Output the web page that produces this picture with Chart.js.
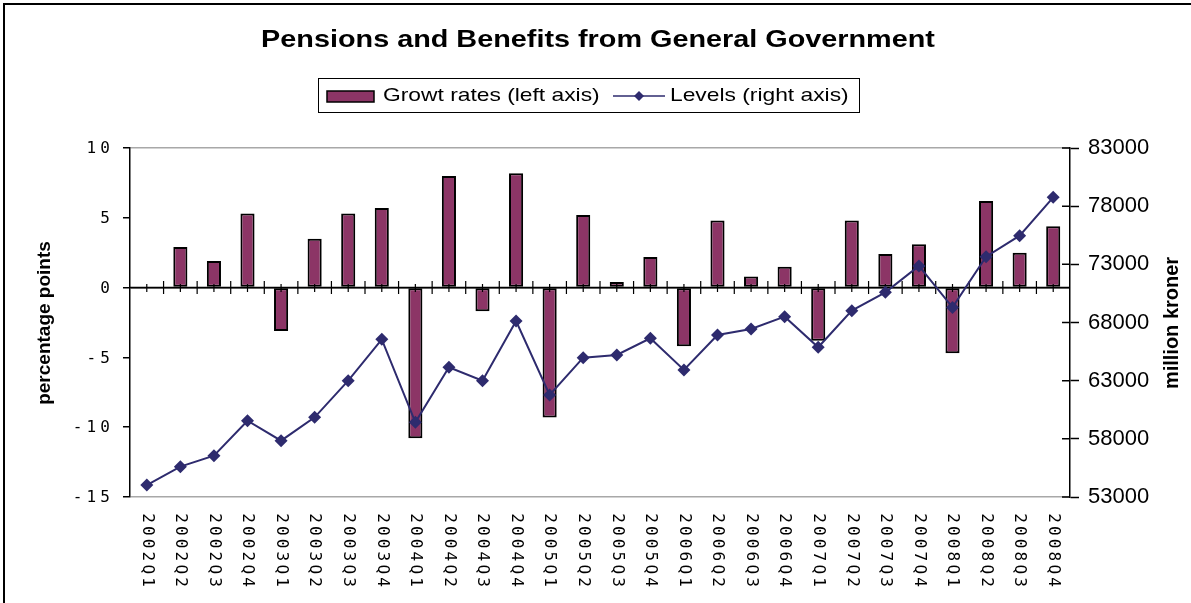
<!DOCTYPE html>
<html>
<head>
<meta charset="utf-8">
<script src="https://cdn.jsdelivr.net/npm/chart.js@4.4.1/dist/chart.umd.min.js"></script>
<style>
  html, body { margin: 0; padding: 0; background: #ffffff; }
  #wrap { width: 1191px; height: 603px; position: relative; }
</style>
</head>
<body>
<div id="wrap"><canvas id="c" width="1191" height="603"></canvas></div>
<script>
// Quarterly categories
const quarters = [
  '2002Q1', '2002Q2', '2002Q3', '2002Q4',
  '2003Q1', '2003Q2', '2003Q3', '2003Q4',
  '2004Q1', '2004Q2', '2004Q3', '2004Q4',
  '2005Q1', '2005Q2', '2005Q3', '2005Q4',
  '2006Q1', '2006Q2', '2006Q3', '2006Q4',
  '2007Q1', '2007Q2', '2007Q3', '2007Q4',
  '2008Q1', '2008Q2', '2008Q3', '2008Q4'
];

// Growth rates, percentage points (left axis)
const growthRates = [
  null, 2.9, 1.9, 5.3,
  -3.1, 3.5, 5.3, 5.7,
  -10.8, 8.0, -1.7, 8.2,
  -9.3, 5.2, 0.4, 2.2,
  -4.2, 4.8, 0.8, 1.5,
  -3.8, 4.8, 2.4, 3.1,
  -4.7, 6.2, 2.5, 4.4
];

// Levels, million kroner (right axis)
const levels = [
  54030, 55610, 56550, 59560,
  57840, 59850, 63000, 66550,
  59420, 64150, 63000, 68130,
  61770, 64980, 65210, 66640,
  63920, 66930, 67440, 68500,
  65870, 69020, 70590, 72860,
  69300, 73660, 75460, 78760
];

// Axis ranges and tick labels
const leftTickLabels = ['10', '5', '0', '-5', '-10', '-15'];
const leftTickValues = [10, 5, 0, -5, -10, -15];
const rightTickValues = [83000, 78000, 73000, 68000, 63000, 58000, 53000];

const titleText = 'Pensions and Benefits from General Government';
const barLabel = 'Growt rates (left axis)';
const lineLabel = 'Levels (right axis)';
const leftAxisTitle = 'percentage points';
const rightAxisTitle = 'million kroner';

const PLUM = '#8C3566';
const NAVY = '#2E2B6E';
const SANS = "'Liberation Sans', Arial, sans-serif";
const MONO = "'DejaVu Sans Mono', monospace";

Chart.defaults.font.family = SANS;
Chart.defaults.color = '#000';

function stretchText(ctx, text, x, y, font, align, sx) {
  ctx.save();
  ctx.font = font;
  ctx.textAlign = align;
  ctx.textBaseline = 'middle';
  ctx.fillStyle = '#000';
  ctx.translate(x, y);
  ctx.scale(sx, 1);
  ctx.fillText(text, 0, 0);
  ctx.restore();
}

function diamond(ctx, x, y, r, color) {
  ctx.beginPath();
  ctx.moveTo(x, y - r);
  ctx.lineTo(x + r, y);
  ctx.lineTo(x, y + r);
  ctx.lineTo(x - r, y);
  ctx.closePath();
  ctx.fillStyle = color;
  ctx.fill();
}

const decor = {
  id: 'decor',
  // zero line with its crossing tick marks, drawn over the bars and under the line
  afterDatasetDraw(chart, args) {
    if (args.index !== 1) return;
    const ctx = chart.ctx, area = chart.chartArea;
    const xs = chart.scales.x, ys = chart.scales.y;
    const y0 = ys.getPixelForValue(0);
    ctx.save();
    ctx.strokeStyle = '#000';
    ctx.lineWidth = 1.5;
    ctx.beginPath();
    ctx.moveTo(area.left, y0);
    ctx.lineTo(area.right, y0);
    ctx.stroke();
    ctx.lineWidth = 1.2;
    ctx.beginPath();
    for (let i = 0; i < quarters.length; i++) {
      const cx = xs.getPixelForValue(i);
      ctx.moveTo(cx, y0 - 3.5);
      ctx.lineTo(cx, y0 + 4.5);
      if (i < quarters.length - 1) {
        const bx = (cx + xs.getPixelForValue(i + 1)) / 2;
        ctx.moveTo(bx, y0 - 6.5);
        ctx.lineTo(bx, y0 + 6.5);
      }
    }
    ctx.stroke();
    ctx.restore();
  },
  afterDraw(chart) {
    const ctx = chart.ctx, area = chart.chartArea;
    const xs = chart.scales.x, ys = chart.scales.y, yr = chart.scales.y1;

    // outer frame (top and left edges)
    ctx.save();
    ctx.fillStyle = '#000';
    ctx.fillRect(3, 3, 1188, 2);
    ctx.fillRect(3, 3, 2, 600);
    ctx.restore();

    // title
    stretchText(ctx, titleText, 598, 40, 'bold 24px ' + SANS, 'center', 1.2);

    // legend
    ctx.save();
    ctx.strokeStyle = '#000';
    ctx.lineWidth = 1;
    ctx.fillStyle = '#fff';
    ctx.fillRect(318.5, 78.5, 541, 34);
    ctx.strokeRect(318.5, 78.5, 541, 34);
    ctx.fillStyle = PLUM;
    ctx.fillRect(327, 91, 47, 11);
    ctx.lineWidth = 1.5;
    ctx.strokeRect(327, 91, 47, 11);
    ctx.strokeStyle = NAVY;
    ctx.lineWidth = 1.5;
    ctx.beginPath();
    ctx.moveTo(613, 96);
    ctx.lineTo(665, 96);
    ctx.stroke();
    diamond(ctx, 639, 96, 5, NAVY);
    ctx.restore();
    stretchText(ctx, barLabel, 383, 96, '19px ' + SANS, 'left', 1.2);
    stretchText(ctx, lineLabel, 670, 96, '19px ' + SANS, 'left', 1.2);

    // axis titles
    ctx.save();
    ctx.font = 'bold 19px ' + SANS;
    ctx.fillStyle = '#000';
    ctx.textAlign = 'center';
    ctx.textBaseline = 'middle';
    ctx.translate(45, 323);
    ctx.rotate(-Math.PI / 2);
    ctx.fillText(leftAxisTitle, 0, 0);
    ctx.restore();
    ctx.save();
    ctx.font = 'bold 20px ' + SANS;
    ctx.fillStyle = '#000';
    ctx.textAlign = 'center';
    ctx.textBaseline = 'middle';
    ctx.translate(1172, 323);
    ctx.rotate(-Math.PI / 2);
    ctx.fillText(rightAxisTitle, 0, 0);
    ctx.restore();

    // left tick labels, spaced characters
    ctx.save();
    ctx.font = '16px ' + MONO;
    ctx.fillStyle = '#000';
    ctx.textAlign = 'center';
    ctx.textBaseline = 'middle';
    const pitchY = 13.7;
    leftTickValues.forEach((v, k) => {
      const s = leftTickLabels[k];
      const ty = ys.getPixelForValue(v) + 1;
      for (let j = 0; j < s.length; j++) {
        ctx.fillText(s[j], 105 - (s.length - 1 - j) * pitchY, ty);
      }
    });
    ctx.restore();

    // category labels, rotated clockwise
    ctx.save();
    ctx.font = '16px ' + MONO;
    ctx.fillStyle = '#000';
    ctx.textAlign = 'center';
    ctx.textBaseline = 'middle';
    const pitchX = 12.8;
    quarters.forEach((q, i) => {
      const cx = xs.getPixelForValue(i);
      for (let j = 0; j < q.length; j++) {
        ctx.save();
        ctx.translate(cx, 518 + j * pitchX);
        ctx.rotate(Math.PI / 2);
        ctx.fillText(q[j], 0, 0);
        ctx.restore();
      }
    });
    ctx.restore();

    // inner halves of the right axis tick marks
    ctx.save();
    ctx.strokeStyle = '#000';
    ctx.lineWidth = 1.5;
    ctx.beginPath();
    rightTickValues.forEach(v => {
      const ty = yr.getPixelForValue(v);
      ctx.moveTo(area.right - 8, ty);
      ctx.lineTo(area.right, ty);
    });
    ctx.stroke();
    ctx.restore();
  }
};

new Chart(document.getElementById('c'), {
  type: 'bar',
  data: {
    labels: quarters,
    datasets: [
      {
        type: 'line',
        label: lineLabel,
        data: levels,
        yAxisID: 'y1',
        borderColor: NAVY,
        backgroundColor: NAVY,
        borderWidth: 2,
        tension: 0,
        pointStyle: 'rectRot',
        pointRadius: 6.5,
        pointBorderWidth: 0,
        pointBackgroundColor: NAVY,
        order: 0
      },
      {
        type: 'bar',
        label: barLabel,
        data: growthRates,
        yAxisID: 'y',
        backgroundColor: PLUM,
        borderColor: '#000',
        borderWidth: 2,
        borderSkipped: false,
        barPercentage: 0.42,
        categoryPercentage: 1,
        order: 1
      }
    ]
  },
  options: {
    responsive: false,
    devicePixelRatio: 1,
    animation: false,
    layout: { padding: { top: 148, left: 0, right: 0, bottom: 0 } },
    plugins: {
      legend: { display: false },
      title: { display: false },
      tooltip: { enabled: false }
    },
    scales: {
      x: {
        offset: true,
        grid: { display: false },
        border: { display: false },
        ticks: { display: false },
        afterFit(s) { s.height = 106; }
      },
      y: {
        position: 'left',
        min: -15,
        max: 10,
        ticks: { stepSize: 5, display: false },
        grid: {
          color: c => (c.tick && (c.tick.value === 10 || c.tick.value === -15)) ? '#a8a8a8'
                    : (c.tick && c.tick.value === 0) ? '#000' : 'rgba(0,0,0,0)',
          lineWidth: 1.5,
          drawTicks: true,
          tickLength: 7,
          tickColor: '#000',
          tickWidth: 1.5
        },
        border: { color: '#000', width: 1.5 },
        afterFit(s) { s.width = 130; }
      },
      y1: {
        position: 'right',
        min: 53000,
        max: 83000,
        ticks: {
          stepSize: 5000,
          color: '#000',
          padding: 9,
          font: { family: SANS, size: 22 },
          callback: v => String(v)
        },
        grid: { drawOnChartArea: false, tickLength: 9, tickColor: '#000', tickWidth: 1.5 },
        border: { color: '#000', width: 1.5 },
        afterFit(s) { s.width = 121; }
      }
    }
  },
  plugins: [decor]
});
</script>
</body>
</html>
